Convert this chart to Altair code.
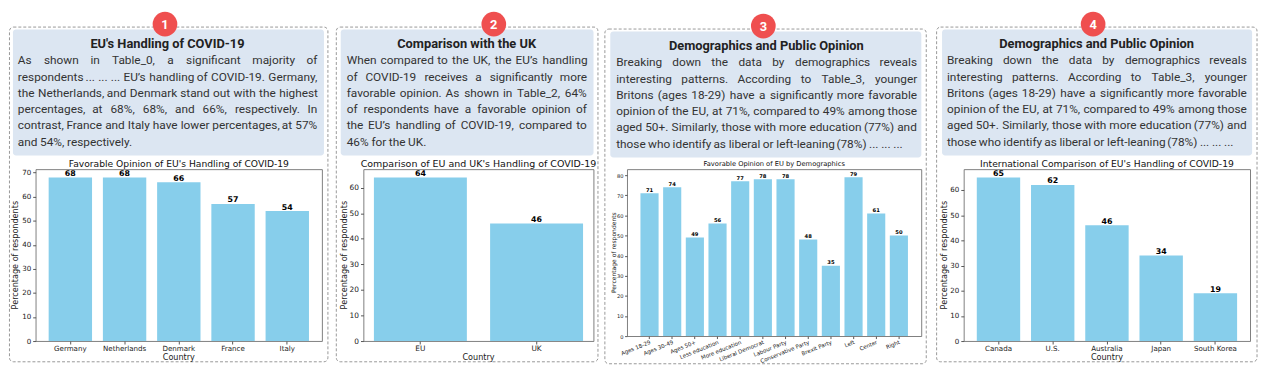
import altair as alt
import pandas as pd

# ---------------- data ----------------
p1_countries = ["Germany", "Netherlands", "Denmark", "France", "Italy"]
p1_values = [68, 68, 66, 57, 54]
p2_countries = ["EU", "UK"]
p2_values = [64, 46]
p3_groups = ["Ages 18-29", "Ages 30-49", "Ages 50+", "Less education", "More education",
             "Liberal Democrat", "Labour Party", "Conservative Party", "Brexit Party",
             "Left", "Center", "Right"]
p3_values = [71, 74, 49, 56, 77, 78, 78, 48, 35, 79, 61, 50]
p4_countries = ["Canada", "U.S.", "Australia", "Japan", "South Korea"]
p4_values = [65, 62, 46, 34, 19]

chart_titles = ["Favorable Opinion of EU's Handling of COVID-19",
                "Comparison of EU and UK's Handling of COVID-19",
                "Favorable Opinion of EU by Demographics",
                "International Comparison of EU's Handling of COVID-19"]
box_titles = ["EU's Handling of COVID-19", "Comparison with the UK",
              "Demographics and Public Opinion", "Demographics and Public Opinion"]
para1 = ["As shown in Table_0, a significant majority of",
         "respondents ... ... ... EU\u2019s handling of COVID-19. Germany,",
         "the Netherlands, and Denmark stand out with the highest",
         "percentages, at 68%, 68%, and 66%, respectively. In",
         "contrast, France and Italy have lower percentages, at 57%",
         "and 54%, respectively."]
para2 = ["When compared to the UK, the EU\u2019s handling",
         "of COVID-19 receives a significantly more",
         "favorable opinion. As shown in Table_2, 64%",
         "of respondents have a favorable opinion of",
         "the EU\u2019s handling of COVID-19, compared to",
         "46% for the UK."]
para3 = ["Breaking down the data by demographics reveals",
         "interesting patterns. According to Table_3, younger",
         "Britons (ages 18-29) have a significantly more favorable",
         "opinion of the EU, at 71%, compared to 49% among those",
         "aged 50+. Similarly, those with more education (77%) and",
         "those who identify as liberal or left-leaning (78%) ... ... ..."]
para4 = list(para3)
y_title = "Percentage of respondents"
x_title = "Country"

# ---------------- approximate Roboto advance widths (units / 2048) ----------------
RW = {' ': 507, '(': 684, ')': 695, '+': 1134, ',': 393, '-': 552, '.': 527, '%': 1466,
      '_': 903, '\u2019': 350, "'": 313}
for d in "0123456789":
    RW[d] = 1150
RW.update(dict(zip("ABCDEFGHIJKLMNOPQRSTUVWXYZ",
                   [1336, 1275, 1333, 1343, 1164, 1132, 1395, 1460, 557, 1130, 1284, 1102, 1788,
                    1460, 1408, 1292, 1408, 1261, 1216, 1221, 1328, 1303, 1817, 1284, 1230, 1226])))
RW.update(dict(zip("abcdefghijklmnopqrstuvwxyz",
                   [1088, 1122, 1046, 1126, 1058, 694, 1120, 1102, 486, 478, 1014, 486, 1752,
                    1104, 1140, 1120, 1130, 677, 1031, 654, 1102, 968, 1502, 991, 946, 991])))


def tw(s, fs):
    return sum(RW.get(c, 1100) for c in s) / 2048.0 * fs


BODY_FS = 12
LINE1 = 61.7
LH = 16.46


def justify(lines, left, right):
    rows = []
    for i, line in enumerate(lines):
        words = line.split(" ")
        widths = [tw(w, BODY_FS) for w in words]
        if i < len(lines) - 1 and len(words) > 1:
            gap = (right - left - sum(widths)) / (len(words) - 1)
        else:
            gap = tw(" ", BODY_FS)
        x = left
        for w, wd in zip(words, widths):
            rows.append({"word": w, "ax": x, "ay": LINE1 + i * LH})
            x += wd + gap
    return rows


SKY = "#87ceeb"
MPL = "DejaVu Sans"
one = pd.DataFrame({"k": [0]})

geoms = [
    dict(frame=(8, 334), border=(8.5, 331), box=(12, 327), text=(17, 320), badge=166,
         plot=(35, 168, 325, 342), po=0.24, ymax=71.4, ticks=list(range(0, 71, 10)),
         fs_tick=7.2, fs_xt=7.2, fs_ax=8.2, fs_title=9.3, fs_val=8, title_y=166, ytx=15,
         xt_y=361, la=0, xtitle=True),
    dict(frame=(334, 605), border=(337.5, 602.5), box=(342, 598), text=(348, 591), badge=497,
         plot=(365, 168, 598, 342), po=0.09, ymax=67.2, ticks=list(range(0, 61, 10)),
         fs_tick=7.5, fs_xt=7.5, fs_ax=8.2, fs_title=9.6, fs_val=8, title_y=166, ytx=346,
         xt_y=361.5, la=0, xtitle=True),
    dict(frame=(605, 937), border=(607.5, 933), box=(613, 928), text=(619, 923), badge=768,
         plot=(630, 166, 928, 335), po=0.59, ymax=82.95, ticks=list(range(0, 81, 10)),
         fs_tick=5.2, fs_xt=5.6, fs_ax=6.1, fs_title=6.8, fs_val=5.3, title_y=163, ytx=617,
         xt_y=None, la=338, xtitle=False),
    dict(frame=(937, 1267), border=(941.5, 1266), box=(947, 1261), text=(952, 1255), badge=1100,
         plot=(969, 168, 1259, 342), po=0.24, ymax=68.25, ticks=list(range(0, 61, 10)),
         fs_tick=7.2, fs_xt=7.2, fs_ax=8.2, fs_title=9.3, fs_val=8, title_y=166, ytx=950,
         xt_y=361, la=0, xtitle=True),
]

datasets = [(p1_countries, p1_values), (p2_countries, p2_values),
            (p3_groups, p3_values), (p4_countries, p4_values)]
paras = [para1, para2, para3, para4]


def build(idx):
    g = geoms[idx]
    cats, vals = datasets[idx]
    x0, y0, x1, y1 = g["plot"]
    W, H = x1 - x0, y1 - y0

    def rx(v):
        return v - x0

    def ry(v):
        return v - y0

    layers = []
    # invisible frame (controls panel bounds)
    layers.append(alt.Chart(one).mark_rect(opacity=0).encode(
        x=alt.value(rx(g["frame"][0])), x2=alt.value(rx(g["frame"][1])),
        y=alt.value(ry(8)), y2=alt.value(ry(365))))
    # dashed border
    layers.append(alt.Chart(one).mark_rect(fill="white", fillOpacity=0, stroke="#8c8c8c",
                                           strokeWidth=0.9, strokeDash=[3, 2], cornerRadius=4).encode(
        x=alt.value(rx(g["border"][0])), x2=alt.value(rx(g["border"][1])),
        y=alt.value(ry(24)), y2=alt.value(ry(363))))
    # blue text box
    layers.append(alt.Chart(one).mark_rect(color="#dce6f2", cornerRadius=3).encode(
        x=alt.value(rx(g["box"][0])), x2=alt.value(rx(g["box"][1])),
        y=alt.value(ry(26.5)), y2=alt.value(ry(154))))
    # body text (justified)
    rows = justify(paras[idx], g["text"][0], g["text"][1])
    wdf = pd.DataFrame(rows)
    wdf["px"] = wdf["ax"] - x0
    wdf["py"] = wdf["ay"] - y0
    layers.append(alt.Chart(wdf).mark_text(align="left", baseline="alphabetic", font="Roboto",
                                           fontSize=BODY_FS, color="#333333").encode(
        x=alt.X("px:Q", scale=None, axis=None), y=alt.Y("py:Q", scale=None, axis=None),
        text="word:N"))
    # box title
    tcx = (g["text"][0] + g["text"][1]) / 2
    layers.append(alt.Chart(one).mark_text(align="center", baseline="alphabetic", font="Roboto",
                                           fontSize=13, fontWeight="bold", color="#222222").encode(
        x=alt.value(rx(tcx)), y=alt.value(ry(45)), text=alt.value(box_titles[idx])))
    # badge
    layers.append(alt.Chart(one).mark_point(shape="circle", filled=True, size=625, opacity=1,
                                            color="#ef4f4f").encode(
        x=alt.value(rx(g["badge"])), y=alt.value(ry(21))))
    layers.append(alt.Chart(one).mark_text(align="center", baseline="middle", font="Roboto",
                                           fontSize=13, fontWeight="bold", color="white").encode(
        x=alt.value(rx(g["badge"])), y=alt.value(ry(21.5)), text=alt.value(str(idx + 1))))
    # chart title
    layers.append(alt.Chart(one).mark_text(align="center", baseline="alphabetic", font=MPL,
                                           fontSize=g["fs_title"], color="#111111").encode(
        x=alt.value(W / 2), y=alt.value(ry(g["title_y"])), text=alt.value(chart_titles[idx])))
    # y title
    layers.append(alt.Chart(one).mark_text(align="center", baseline="middle", font=MPL, angle=270,
                                           fontSize=g["fs_ax"], color="#222222").encode(
        x=alt.value(rx(g["ytx"])), y=alt.value(H / 2), text=alt.value(y_title)))
    if g["xtitle"]:
        layers.append(alt.Chart(one).mark_text(align="center", baseline="alphabetic", font=MPL,
                                               fontSize=g["fs_ax"], color="#222222").encode(
            x=alt.value(W / 2), y=alt.value(ry(g["xt_y"])), text=alt.value(x_title)))

    df = pd.DataFrame({"cat": cats, "val": vals})
    small = idx == 2
    xscale = alt.Scale(paddingInner=0.2, paddingOuter=g["po"])
    yscale = alt.Scale(domain=[0, g["ymax"]], nice=False, zero=True)
    xaxis = alt.Axis(labelAngle=g["la"], labelFont=MPL, labelFontSize=g["fs_xt"],
                     labelColor="#222222", domain=False, ticks=True, labelOverlap=False,
                     tickSize=2.5 if small else 3, tickColor="#555555",
                     labelPadding=1 if small else 0.8, grid=False)
    yaxis = alt.Axis(values=g["ticks"], labelFont=MPL, labelFontSize=g["fs_tick"],
                     labelColor="#222222", domain=False, ticks=True, labelOverlap=False,
                     labelFlush=False, labelBound=False,
                     tickSize=2.5 if small else 3, tickColor="#555555",
                     labelPadding=1.5 if small else 2, grid=False)
    xenc = alt.X("cat:N", sort=cats, title=None, scale=xscale, axis=xaxis)
    yenc = alt.Y("val:Q", title=None, scale=yscale, axis=yaxis)
    bars = alt.Chart(df).mark_bar(color=SKY).encode(x=xenc, y=yenc)
    labels = alt.Chart(df).mark_text(align="center", baseline="alphabetic", dy=-1.5, font=MPL,
                                     fontWeight="bold", fontSize=g["fs_val"], color="black").encode(
        x=xenc, y=yenc, text=alt.Text("val:Q"))
    layers += [bars, labels]
    return alt.layer(*layers).properties(width=W, height=H)


chart = alt.hconcat(*[build(i) for i in range(4)], spacing=0).properties(
    padding={"left": 0, "top": 0, "right": 0, "bottom": 0},
    background="white",
).configure_view(stroke="#707070", strokeWidth=0.9)

chart.save("out.html", embed_options={"renderer": "svg", "actions": False})
